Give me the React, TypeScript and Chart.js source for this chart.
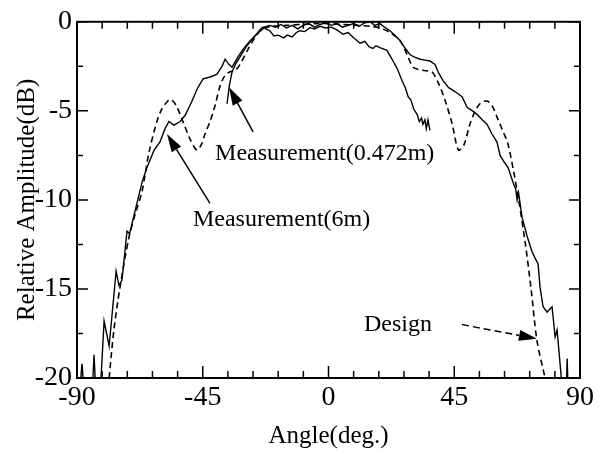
import { useEffect, useRef } from 'react';
import { Chart, registerables } from 'chart.js';
Chart.register(...registerables);

const FONT = '"Liberation Serif", "Times New Roman", serif';

const xTickValues = [-90, -45, 0, 45, 90];
const yTickValues = [0, -5, -10, -15, -20];

const designPts: [number, number][] = [
  [-78.5, -20], [-76.8, -17.3], [-74.6, -14.9], [-71.4, -12.1], [-68.8, -10.6], [-66.7, -9.5],
  [-64.2, -7.3], [-61.4, -5.6], [-59.5, -4.85], [-57.8, -4.5], [-56.5, -4.35], [-54.5, -4.7],
  [-52.1, -5.6], [-49.5, -6.6], [-47.1, -7.2], [-45.5, -6.9], [-44.2, -6.3], [-42.4, -5.6],
  [-40.6, -4.7], [-38.8, -3.6], [-37, -3.0], [-35.2, -2.8], [-33.5, -2.75], [-31.7, -2.4],
  [-29, -1.6], [-26, -0.8], [-23.8, -0.4], [-20, -0.25], [-15, -0.2], [-10, -0.15], [-5, -0.1],
  [0, -0.1], [5, -0.15], [10, -0.2], [15, -0.25], [18.4, -0.35], [22, -0.6], [25.6, -1.06],
  [28, -1.8], [30.3, -2.55], [32.8, -2.7], [35, -2.75], [37, -2.8], [39.2, -3.4], [41.7, -4.4],
  [44.2, -5.7], [46.5, -7.2], [48.5, -6.9], [50.5, -5.8], [52.5, -5.0], [54.5, -4.55],
  [56.7, -4.45], [58.5, -4.7], [60.3, -5.35], [62.3, -6.1], [64.3, -6.9], [67.5, -9.5],
  [70.3, -12.3], [72.5, -15], [74.6, -17.9], [77.5, -20],
];

const meas6mPts: [number, number][] = [
  [-89.2, -21], [-88.2, -19.2], [-87.4, -21], [-84.6, -21], [-83.9, -18.7], [-83.2, -21],
  [-81.4, -20], [-80.3, -16.8], [-78.5, -18.2], [-76, -14], [-75, -14.8], [-73.9, -14.5],
  [-72.1, -11.75], [-71.2, -11.9], [-69.2, -10.6], [-66.7, -9], [-65, -8.2], [-62.4, -7.2],
  [-60.3, -6.75], [-58.5, -6], [-57.1, -5.6], [-55.3, -5.8], [-53.1, -5.6], [-51.3, -5.25],
  [-49, -4.5], [-47.1, -3.8], [-44.9, -3.2], [-42.4, -3.1], [-40, -2.95], [-38.1, -2.5],
  [-37, -2.1], [-35.6, -2.4], [-34.5, -2.55], [-32.5, -2.0], [-30.6, -1.55], [-28.5, -1.15],
  [-26.3, -0.8], [-23.8, -0.33], [-21, -0.2], [-19, -0.3], [-17, -0.15], [-15, -0.35],
  [-13, -0.2], [-11, -0.4], [-9, -0.2], [-7, -0.1], [-5, -0.3], [-3, -0.15], [-1, -0.05],
  [1, -0.2], [3, -0.1], [5, -0.3], [7, -0.2], [9, -0.1], [11, -0.25], [13, -0.05], [15, 0],
  [16.5, -0.2], [18.4, -0.1], [20, -0.3], [22, -0.5], [24, -0.8], [25.6, -1.05], [27.5, -1.5],
  [29.2, -1.85], [31, -2.0], [32.8, -2.1], [34.5, -2.15], [36.3, -2.2], [38.1, -2.4],
  [39.5, -2.9], [41, -3.3], [43, -3.7], [44.6, -3.85], [46, -4.0], [47.8, -4.2], [49.6, -4.8],
  [51.5, -5.0], [53.2, -5.2], [55, -5.5], [56.7, -5.75], [58.5, -6.3], [60.3, -6.75],
  [61.4, -7.5], [63, -7.9], [64.3, -8.2], [66, -9.0], [67, -9.4], [67.5, -10.0], [68, -9.6],
  [69.3, -11], [71, -12], [72.8, -12.9], [74, -13.3], [75, -13.6], [75.7, -14.9], [76.8, -16],
  [78.2, -16.3], [80, -16], [81.1, -17.7], [81.8, -17.3], [83.6, -20.5], [84.5, -21],
  [85.1, -21], [85.4, -18.9], [85.8, -21],
];

const meas0472mPts: [number, number][] = [
  [-36.3, -4.6], [-35.5, -3.6], [-34.5, -2.8], [-33, -2.3], [-31, -1.8], [-29, -1.3],
  [-27, -0.9], [-25, -0.6], [-23, -0.35], [-21, -0.5], [-19.5, -0.8], [-18, -0.75],
  [-16, -0.9], [-14.8, -0.75], [-13, -0.85], [-11.5, -0.6], [-10.2, -0.5], [-8.5, -0.55],
  [-6.6, -0.33], [-5, -0.4], [-3, -0.25], [-1, -0.35], [1, -0.3], [3, -0.45], [5.2, -0.7],
  [7, -0.6], [9, -0.9], [11.3, -1.2], [13, -1.1], [14.5, -1.4], [15.9, -1.5], [17, -1.35],
  [18.4, -1.45], [20.9, -1.6], [22, -1.9], [23.1, -2.2], [24.5, -2.6], [26.3, -3.3],
  [27.5, -3.7], [28.5, -4.2], [29.5, -4.4], [30.5, -4.9], [31.7, -5.2], [32.5, -5.6],
  [33.3, -5.4], [33.8, -5.75], [34.5, -5.5], [35, -6.0], [35.6, -5.5], [36.3, -6.1],
];

// annotation texts and their anchor / arrow positions in data coordinates
const labelTexts = ['Measurement(0.472m)', 'Measurement(6m)', 'Design'];
const labelAnchors: [number, number][] = [[-40.6, -7.38], [-48.5, -11.09], [12.7, -17.0]];
const arrowFrom: [number, number][] = [[-27.0, -6.18], [-42.4, -10.2], [47.8, -17.0]];
const arrowTip: [number, number][] = [[-35.6, -3.68], [-57.8, -6.3], [74.6, -17.8]];
const arrowDashed = [false, false, true];

function drawArrow(ctx: CanvasRenderingContext2D, x1: number, y1: number, x2: number, y2: number, dashed: boolean) {
  const ang = Math.atan2(y2 - y1, x2 - x1);
  const len = 18;
  const hw = 5.5;
  const bx = x2 - len * Math.cos(ang);
  const by = y2 - len * Math.sin(ang);
  ctx.save();
  ctx.strokeStyle = '#000';
  ctx.fillStyle = '#000';
  ctx.lineWidth = 1.5;
  ctx.setLineDash(dashed ? [7, 4] : []);
  ctx.beginPath();
  ctx.moveTo(x1, y1);
  ctx.lineTo(bx, by);
  ctx.stroke();
  ctx.setLineDash([]);
  ctx.beginPath();
  ctx.moveTo(x2, y2);
  ctx.lineTo(bx + hw * Math.sin(ang), by - hw * Math.cos(ang));
  ctx.lineTo(bx - hw * Math.sin(ang), by + hw * Math.cos(ang));
  ctx.closePath();
  ctx.fill();
  ctx.restore();
}

const framePlugin = {
  id: 'frameTicks',
  afterDatasetsDraw(chart: any) {
    const { ctx, chartArea, scales } = chart;
    const { left, right, top, bottom } = chartArea;
    const xs = scales.x;
    const ys = scales.y;
    ctx.save();
    ctx.strokeStyle = '#000';
    ctx.lineWidth = 2;
    ctx.strokeRect(left, top, right - left, bottom - top);
    ctx.lineWidth = 1.5;
    ctx.beginPath();
    for (let v = -90; v <= 90; v += 9) {
      const px = xs.getPixelForValue(v);
      const l = v % 45 === 0 ? 12 : 7;
      ctx.moveTo(px, bottom);
      ctx.lineTo(px, bottom - l);
      ctx.moveTo(px, top);
      ctx.lineTo(px, top + l);
    }
    for (let v = 0; v >= -20; v -= 2.5) {
      const py = ys.getPixelForValue(v);
      const l = v % 5 === 0 ? 11 : 6;
      ctx.moveTo(left, py);
      ctx.lineTo(left + l, py);
      ctx.moveTo(right, py);
      ctx.lineTo(right - l, py);
    }
    ctx.stroke();
    ctx.restore();

    ctx.save();
    ctx.fillStyle = '#000';
    ctx.font = `24px ${FONT}`;
    ctx.textBaseline = 'middle';
    ctx.textAlign = 'left';
    labelTexts.forEach((t, i) => {
      ctx.fillText(t, xs.getPixelForValue(labelAnchors[i][0]), ys.getPixelForValue(labelAnchors[i][1]));
      drawArrow(
        ctx,
        xs.getPixelForValue(arrowFrom[i][0]), ys.getPixelForValue(arrowFrom[i][1]),
        xs.getPixelForValue(arrowTip[i][0]), ys.getPixelForValue(arrowTip[i][1]),
        arrowDashed[i]
      );
    });
    ctx.restore();
  },
};

export default function App() {
  const ref = useRef<HTMLCanvasElement>(null);
  useEffect(() => {
    if (!ref.current) return;
    const toXY = (pts: [number, number][]) => pts.map(([x, y]) => ({ x, y }));
    const chart = new Chart(ref.current, {
      type: 'scatter',
      data: {
        datasets: [
          { label: 'Design', data: toXY(designPts), showLine: true, borderColor: '#000', borderWidth: 1.6, borderDash: [6, 4], pointRadius: 0, tension: 0.3 },
          { label: 'Measurement(6m)', data: toXY(meas6mPts), showLine: true, borderColor: '#000', borderWidth: 1.4, pointRadius: 0 },
          { label: 'Measurement(0.472m)', data: toXY(meas0472mPts), showLine: true, borderColor: '#000', borderWidth: 1.4, pointRadius: 0 },
        ],
      },
      options: {
        responsive: false,
        animation: false,
        devicePixelRatio: 1,
        layout: { padding: { top: 19, right: 29, bottom: 0, left: 0 } },
        plugins: { legend: { display: false }, tooltip: { enabled: false } },
        scales: {
          x: {
            type: 'linear', min: -90, max: 90,
            afterBuildTicks: (s: any) => { s.ticks = xTickValues.map((v) => ({ value: v })); },
            afterFit: (s: any) => { s.height = 76; },
            grid: { display: false, drawTicks: false },
            border: { display: false },
            ticks: { color: '#000', font: { family: FONT, size: 28 }, padding: 3, maxRotation: 0 },
            title: { display: true, text: 'Angle(deg.)', color: '#000', font: { family: FONT, size: 25 }, padding: { top: 0, bottom: 3 } },
          },
          y: {
            type: 'linear', min: -20, max: 0,
            afterBuildTicks: (s: any) => { s.ticks = yTickValues.map((v) => ({ value: v })); },
            afterFit: (s: any) => { s.width = 77; },
            grid: { display: false, drawTicks: false },
            border: { display: false },
            ticks: { color: '#000', font: { family: FONT, size: 28 }, padding: 5 },
            title: { display: true, text: 'Relative Amplitude(dB)', color: '#000', font: { family: FONT, size: 25 }, padding: { top: 12, bottom: 0 } },
          },
        },
      },
      plugins: [framePlugin],
    });
    return () => chart.destroy();
  }, []);
  return (
    <div style={{ position: 'fixed', left: 0, top: 0, width: 609, height: 454, background: '#fff' }}>
      <canvas ref={ref} width={609} height={454} />
    </div>
  );
}
